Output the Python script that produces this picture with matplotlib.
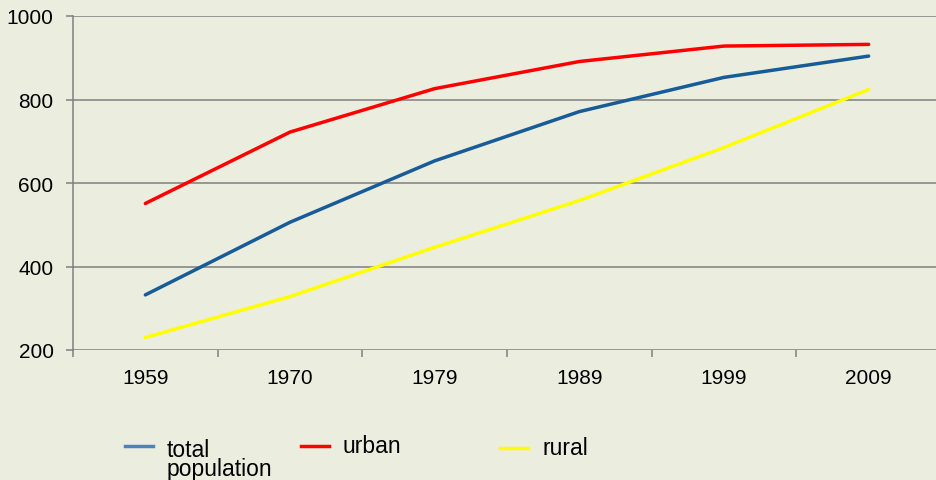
import matplotlib
matplotlib.use("Agg")
import matplotlib.pyplot as plt
from matplotlib.lines import Line2D

years = ["1959", "1970", "1979", "1989", "1999", "2009"]
total_population = [332, 506, 653, 771, 853, 904]
urban = [551, 722, 826, 891, 928, 932]
rural = [230, 328, 446, 558, 685, 824]
yticks = [200, 400, 600, 800, 1000]

plt.rcParams['font.family'] = ['Liberation Sans', 'DejaVu Sans']

bg = '#EBEEDF'
grid = '#7F7F7F'
fig = plt.figure(figsize=(9.36, 4.81), dpi=100, facecolor=bg)
ax = fig.add_axes([73/936, 130/481, 868/936, 334/481], facecolor=bg)

x = list(range(len(years)))
ax.plot(x, total_population, color='#175B99', lw=2.5, solid_capstyle='round', zorder=3)
ax.plot(x, urban, color='#FF0000', lw=2.5, solid_capstyle='round', zorder=3)
ax.plot(x, rural, color='#FFFF00', lw=2.5, solid_capstyle='round', zorder=3)

ax.set_xlim(-0.5, len(years) - 0.5)
ax.set_ylim(200, 1000)
ax.set_yticks(yticks)
ax.set_yticklabels([str(v) for v in yticks], fontsize=15)
for v in yticks:
    ax.axhline(v, color=grid, lw=1.1, zorder=1)

ax.set_xticks(x)
ax.set_xticklabels(years, fontsize=15)
ax.tick_params(axis='x', which='major', length=0, pad=13)
ax.set_xticks([i - 0.5 for i in range(len(years) + 1)], minor=True)
ax.tick_params(axis='x', which='minor', length=5, width=1.1, color=grid, direction='out')
ax.tick_params(axis='y', length=5, width=1.1, color=grid, pad=9, direction='out')

for s in ['top', 'right', 'bottom']:
    ax.spines[s].set_visible(False)
ax.spines['left'].set_color(grid)
ax.spines['left'].set_linewidth(1.1)

# legend
def fx(px):
    return px / 936
def fy(py):
    return 1 - py / 481

entries = [
    ('total\npopulation', '#4F81BD', 125, 153, 447, 167),
    ('urban', '#FF0000', 301, 329, 447, 343),
    ('rural', '#FFFF00', 500, 528, 449, 543),
]
for label, c, x0, x1, yy, tx in entries:
    fig.add_artist(Line2D([fx(x0), fx(x1)], [fy(yy), fy(yy)], color=c, lw=2.5,
                          transform=fig.transFigure))
    if '\n' in label:
        fig.text(fx(tx), fy(439), label, fontsize=16.5, va='top', ha='left',
                 linespacing=0.78)
    else:
        fig.text(fx(tx), fy(yy), label, fontsize=16.5, va='center', ha='left')

fig.savefig('out.png', dpi=100, facecolor=bg)
